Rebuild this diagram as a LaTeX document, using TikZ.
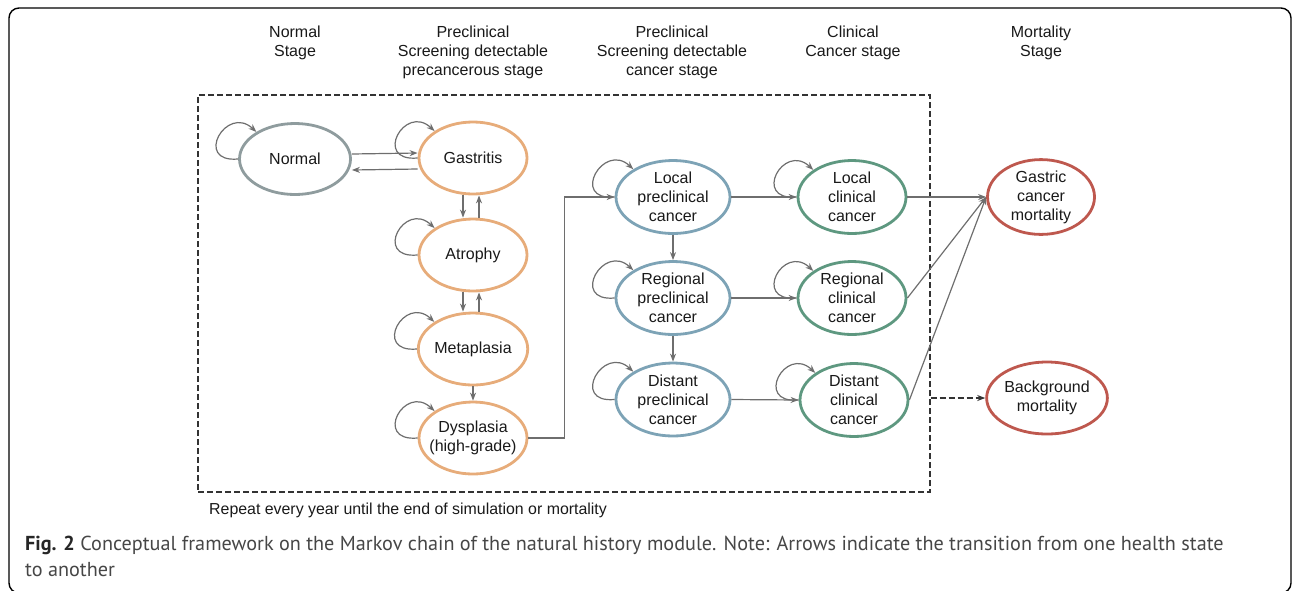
\documentclass[tikz,border=0pt]{standalone}
\usepackage{fontspec}
\setmainfont{Liberation Sans}
\newfontfamily\capfont{PT Sans}
\usetikzlibrary{shapes.geometric,arrows.meta,calc}
\definecolor{cgray}{RGB}{143,156,158}
\definecolor{corange}{RGB}{231,172,122}
\definecolor{cblue}{RGB}{125,163,182}
\definecolor{cgreen}{RGB}{94,152,128}
\definecolor{cred}{RGB}{190,88,78}
\definecolor{carrow}{RGB}{110,110,110}
\definecolor{ctext}{RGB}{25,25,25}
\definecolor{ccap}{RGB}{70,70,70}
\newcommand\selfloop[1]{\draw[arr] (#1.west) .. controls ([shift={(-45,4)}]#1.west) and ([shift={(-30,-28)}]#1.145) .. (#1.145);}
\newcommand\nb[1]{\makebox[60pt]{#1}}
\begin{document}
\begin{tikzpicture}[x=1pt,y=-1pt,
  st/.style={ellipse, draw, line width=2.8pt, inner sep=0pt, align=center, text=ctext, font=\fontsize{16}{19}\selectfont},
  hdr/.style={anchor=north, align=center, text=ctext, inner sep=0pt, font=\fontsize{16}{19}\selectfont},
  arr/.style={draw=carrow, line width=1.2pt, -{Stealth[length=8pt,width=6pt]}},
  darr/.style={draw=black!80, line width=1.4pt, dash pattern=on 6pt off 3pt, -{Stealth[length=8pt,width=6pt]}}
]
\useasboundingbox (0,0) rectangle (1292,590);
\begin{scope}
\clip (0,0) rectangle (1292,590);
\draw[line width=1.4pt, rounded corners=10pt] (9,8) rectangle (1291,593);
\end{scope}

% headers
\node[hdr] (h1) at (295,26) {Normal\\Stage};
\node[hdr] (h2) at (473,26) {Preclinical\\Screening detectable\\precancerous stage};
\node[hdr] (h3) at (672,26) {Preclinical\\Screening detectable\\cancer stage};
\node[hdr] (h4) at (853,26) {Clinical\\Cancer stage};
\node[hdr] (h5) at (1041,26) {Mortality\\Stage};

% dashed box
\node[draw=black!80, line width=1.4pt, dash pattern=on 6pt off 3pt, minimum width=732, minimum height=397, inner sep=0pt] (box) at (564,293.5) {};

% states
\node[st, draw=cgray, minimum width=111, minimum height=71] (normal) at (295,159) {Normal};
\node[st, draw=corange, minimum width=108, minimum height=72] (gas) at (473,158) {Gastritis};
\node[st, draw=corange, minimum width=108, minimum height=72] (atr) at (473,255) {Atrophy};
\node[st, draw=corange, minimum width=108, minimum height=72] (meta) at (473,349) {Metaplasia};
\node[st, draw=corange, minimum width=108, minimum height=72] (dys) at (473,438) {\nb{Dysplasia}\\\nb{(high-grade)}};

\node[st, draw=cblue, minimum width=114, minimum height=73] (lpre) at (673,197) {Local\\preclinical\\cancer};
\node[st, draw=cblue, minimum width=114, minimum height=73] (rpre) at (673,298) {Regional\\preclinical\\cancer};
\node[st, draw=cblue, minimum width=114, minimum height=73] (dpre) at (673,399.5) {Distant\\preclinical\\cancer};

\node[st, draw=cgreen, minimum width=108, minimum height=73] (lcl) at (852,197) {Local\\clinical\\cancer};
\node[st, draw=cgreen, minimum width=108, minimum height=73] (rcl) at (852,298) {Regional\\clinical\\cancer};
\node[st, draw=cgreen, minimum width=108, minimum height=73] (dcl) at (854,400) {Distant\\clinical\\cancer};

\node[st, draw=cred, minimum width=107, minimum height=72] (gcm) at (1041,197) {Gastric\\cancer\\mortality};
\node[st, draw=cred, minimum width=112, minimum height=72] (bgm) at (1047,398) {Background\\mortality};

% self loops
\foreach \n in {normal,gas,atr,meta,dys,lpre,rpre,dpre,lcl,rcl,dcl}{\selfloop{\n}}

% transitions
\draw[arr] ([yshift=5pt]normal.east) -- ([yshift=5pt]gas.west);
\draw[arr] ([yshift=-11pt]gas.west) -- ([yshift=-11pt]normal.east);
\draw[arr] ([xshift=-10pt]gas.south) -- ([xshift=-10pt]atr.north);
\draw[arr] ([xshift=6pt]atr.north) -- ([xshift=6pt]gas.south);
\draw[arr] ([xshift=-10pt]atr.south) -- ([xshift=-10pt]meta.north);
\draw[arr] ([xshift=6pt]meta.north) -- ([xshift=6pt]atr.south);
\draw[arr] (meta.south) -- (dys.north);
\draw[arr] (dys.east) -| ([xshift=-50pt]lpre.west) -- (lpre.west);
\draw[arr] (lpre.south) -- (rpre.north);
\draw[arr] (rpre.south) -- (dpre.north);
\draw[arr] (lpre.east) -- (lcl.west);
\draw[arr] (rpre.east) -- (rcl.west);
\draw[arr] (dpre.east) -- (dcl.west);
\draw[arr] (lcl.east) -- (gcm.west);
\draw[arr] (rcl.east) -- (gcm.west);
\draw[arr] (dcl.east) -- (gcm.west);
\draw[darr] (box.east |- bgm.west) -- (bgm.west);

% texts
\node[anchor=base west, inner sep=0pt, text=ctext, font=\fontsize{15.9}{18}\selectfont] (rep) at (209,514) {Repeat every year until the end of simulation or mortality};
\node[anchor=north west, inner sep=0pt, align=left, text=ccap, font=\capfont\fontsize{20.2}{26}\selectfont] (cap) at (25,536) {\textbf{\color{black!85}Fig. 2} Conceptual framework on the Markov chain of the natural history module. Note: Arrows indicate the transition from one health state\\to another};
\end{tikzpicture}
\end{document}
